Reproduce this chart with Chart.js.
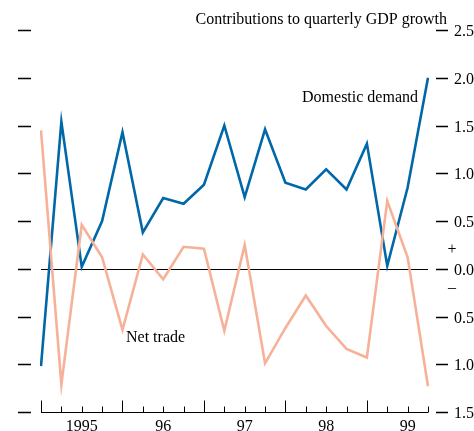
<!DOCTYPE html>
<html>
<head>
<meta charset="utf-8">
<script src="https://cdn.jsdelivr.net/npm/chart.js@4"></script>
<style>
  body { margin: 0; background: #fff; }
  canvas { display: block; }
</style>
</head>
<body>
<canvas id="gdpChart" width="474" height="431"></canvas>
<script>
// quarterly data, 1995 Q1 .. 1999 Q4
const quarters = ['1995 Q1','1995 Q2','1995 Q3','1995 Q4','1996 Q1','1996 Q2','1996 Q3','1996 Q4',
  '1997 Q1','1997 Q2','1997 Q3','1997 Q4','1998 Q1','1998 Q2','1998 Q3','1998 Q4',
  '1999 Q1','1999 Q2','1999 Q3','1999 Q4'];
const domesticDemand = [-1.02, 1.54, 0.02, 0.50, 1.43, 0.38, 0.74, 0.68, 0.88, 1.50,
  0.75, 1.46, 0.90, 0.83, 1.04, 0.83, 1.31, 0.03, 0.85, 2.00];
const netTrade = [1.45, -1.21, 0.46, 0.12, -0.64, 0.15, -0.11, 0.23, 0.21, -0.65,
  0.25, -0.99, -0.62, -0.28, -0.60, -0.84, -0.93, 0.71, 0.12, -1.23];

const yTicks = [-1.5, -1.0, -0.5, 0.0, 0.5, 1.0, 1.5, 2.0, 2.5];
const yearLabels = ['1995', '96', '97', '98', '99'];
const yearLabelAt = [2, 6, 10, 14, 18];   // index of the quarter the label sits on
const majorTickEvery = 4;

const serif = '"Liberation Serif", "DejaVu Serif", serif';

// zero line under the series
const zeroLine = {
  id: 'zeroLine',
  beforeDatasetsDraw(chart) {
    const { ctx, chartArea, scales } = chart;
    const y = Math.round(scales.y.getPixelForValue(0)) + 0.5;
    ctx.save();
    ctx.strokeStyle = '#000';
    ctx.lineWidth = 1;
    ctx.beginPath();
    ctx.moveTo(chartArea.left, y);
    ctx.lineTo(chartArea.right, y);
    ctx.stroke();
    ctx.restore();
  }
};

// axes, ticks and texts drawn in the chart's own scale coordinates
const decorations = {
  id: 'decorations',
  afterDraw(chart) {
    const { ctx, chartArea, scales } = chart;
    const xs = scales.x, ys = scales.y;
    ctx.save();
    ctx.strokeStyle = '#000';
    ctx.fillStyle = '#000';
    ctx.lineWidth = 1.5;
    ctx.font = '16px ' + serif;

    // left and right tick marks, right labels
    yTicks.forEach(v => {
      const y = Math.round(ys.getPixelForValue(v)) + 0.5;
      ctx.beginPath();
      ctx.moveTo(18, y); ctx.lineTo(31, y);
      ctx.moveTo(436, y); ctx.lineTo(448, y);
      ctx.stroke();
      ctx.textAlign = 'left';
      ctx.textBaseline = 'middle';
      ctx.fillText(Math.abs(v).toFixed(1), 454, y + 1);
    });

    // + / - signs around zero
    const y0 = ys.getPixelForValue(0);
    ctx.textAlign = 'center';
    ctx.fillText('+', 452, y0 - 19);
    ctx.fillText('\u2013', 452, y0 + 19);

    // bottom axis with inward ticks
    const yb = Math.round(chartArea.bottom) + 0.5;
    const last = quarters.length - 1;
    ctx.lineWidth = 1;
    ctx.beginPath();
    ctx.moveTo(xs.getPixelForValue(0), yb);
    ctx.lineTo(xs.getPixelForValue(last), yb);
    quarters.forEach((q, i) => {
      const x = Math.round(xs.getPixelForValue(i)) + 0.5;
      const len = i % majorTickEvery === 0 ? 12 : 6;
      ctx.moveTo(x, yb);
      ctx.lineTo(x, yb - len);
    });
    ctx.stroke();

    ctx.textAlign = 'center';
    ctx.textBaseline = 'alphabetic';
    yearLabels.forEach((t, k) => {
      ctx.fillText(t, xs.getPixelForValue(yearLabelAt[k]), yb + 18);
    });

    // title and series labels
    ctx.textAlign = 'right';
    ctx.fillText('Contributions to quarterly GDP growth', 447, 24);
    ctx.fillText('Domestic demand', 418, 102);
    ctx.textAlign = 'left';
    ctx.fillText('Net trade', 126, 342);
    ctx.restore();
  }
};

new Chart(document.getElementById('gdpChart').getContext('2d'), {
  type: 'line',
  data: {
    labels: quarters,
    datasets: [{
      label: 'Net trade',
      data: netTrade,
      borderColor: '#f7b199',
      borderWidth: 2.6,
      pointRadius: 0,
      tension: 0,
      fill: false
    }, {
      label: 'Domestic demand',
      data: domesticDemand,
      borderColor: '#0068a8',
      borderWidth: 2.6,
      pointRadius: 0,
      tension: 0,
      fill: false
    }]
  },
  options: {
    responsive: false,
    devicePixelRatio: 1,
    animation: false,
    layout: { padding: { left: 41, right: 46, top: 30, bottom: 19 } },
    plugins: { legend: { display: false }, tooltip: { enabled: false } },
    scales: {
      x: { type: 'category', display: false, offset: false },
      y: { display: false, min: -1.5, max: 2.5 }
    }
  },
  plugins: [zeroLine, decorations]
});
</script>
</body>
</html>
